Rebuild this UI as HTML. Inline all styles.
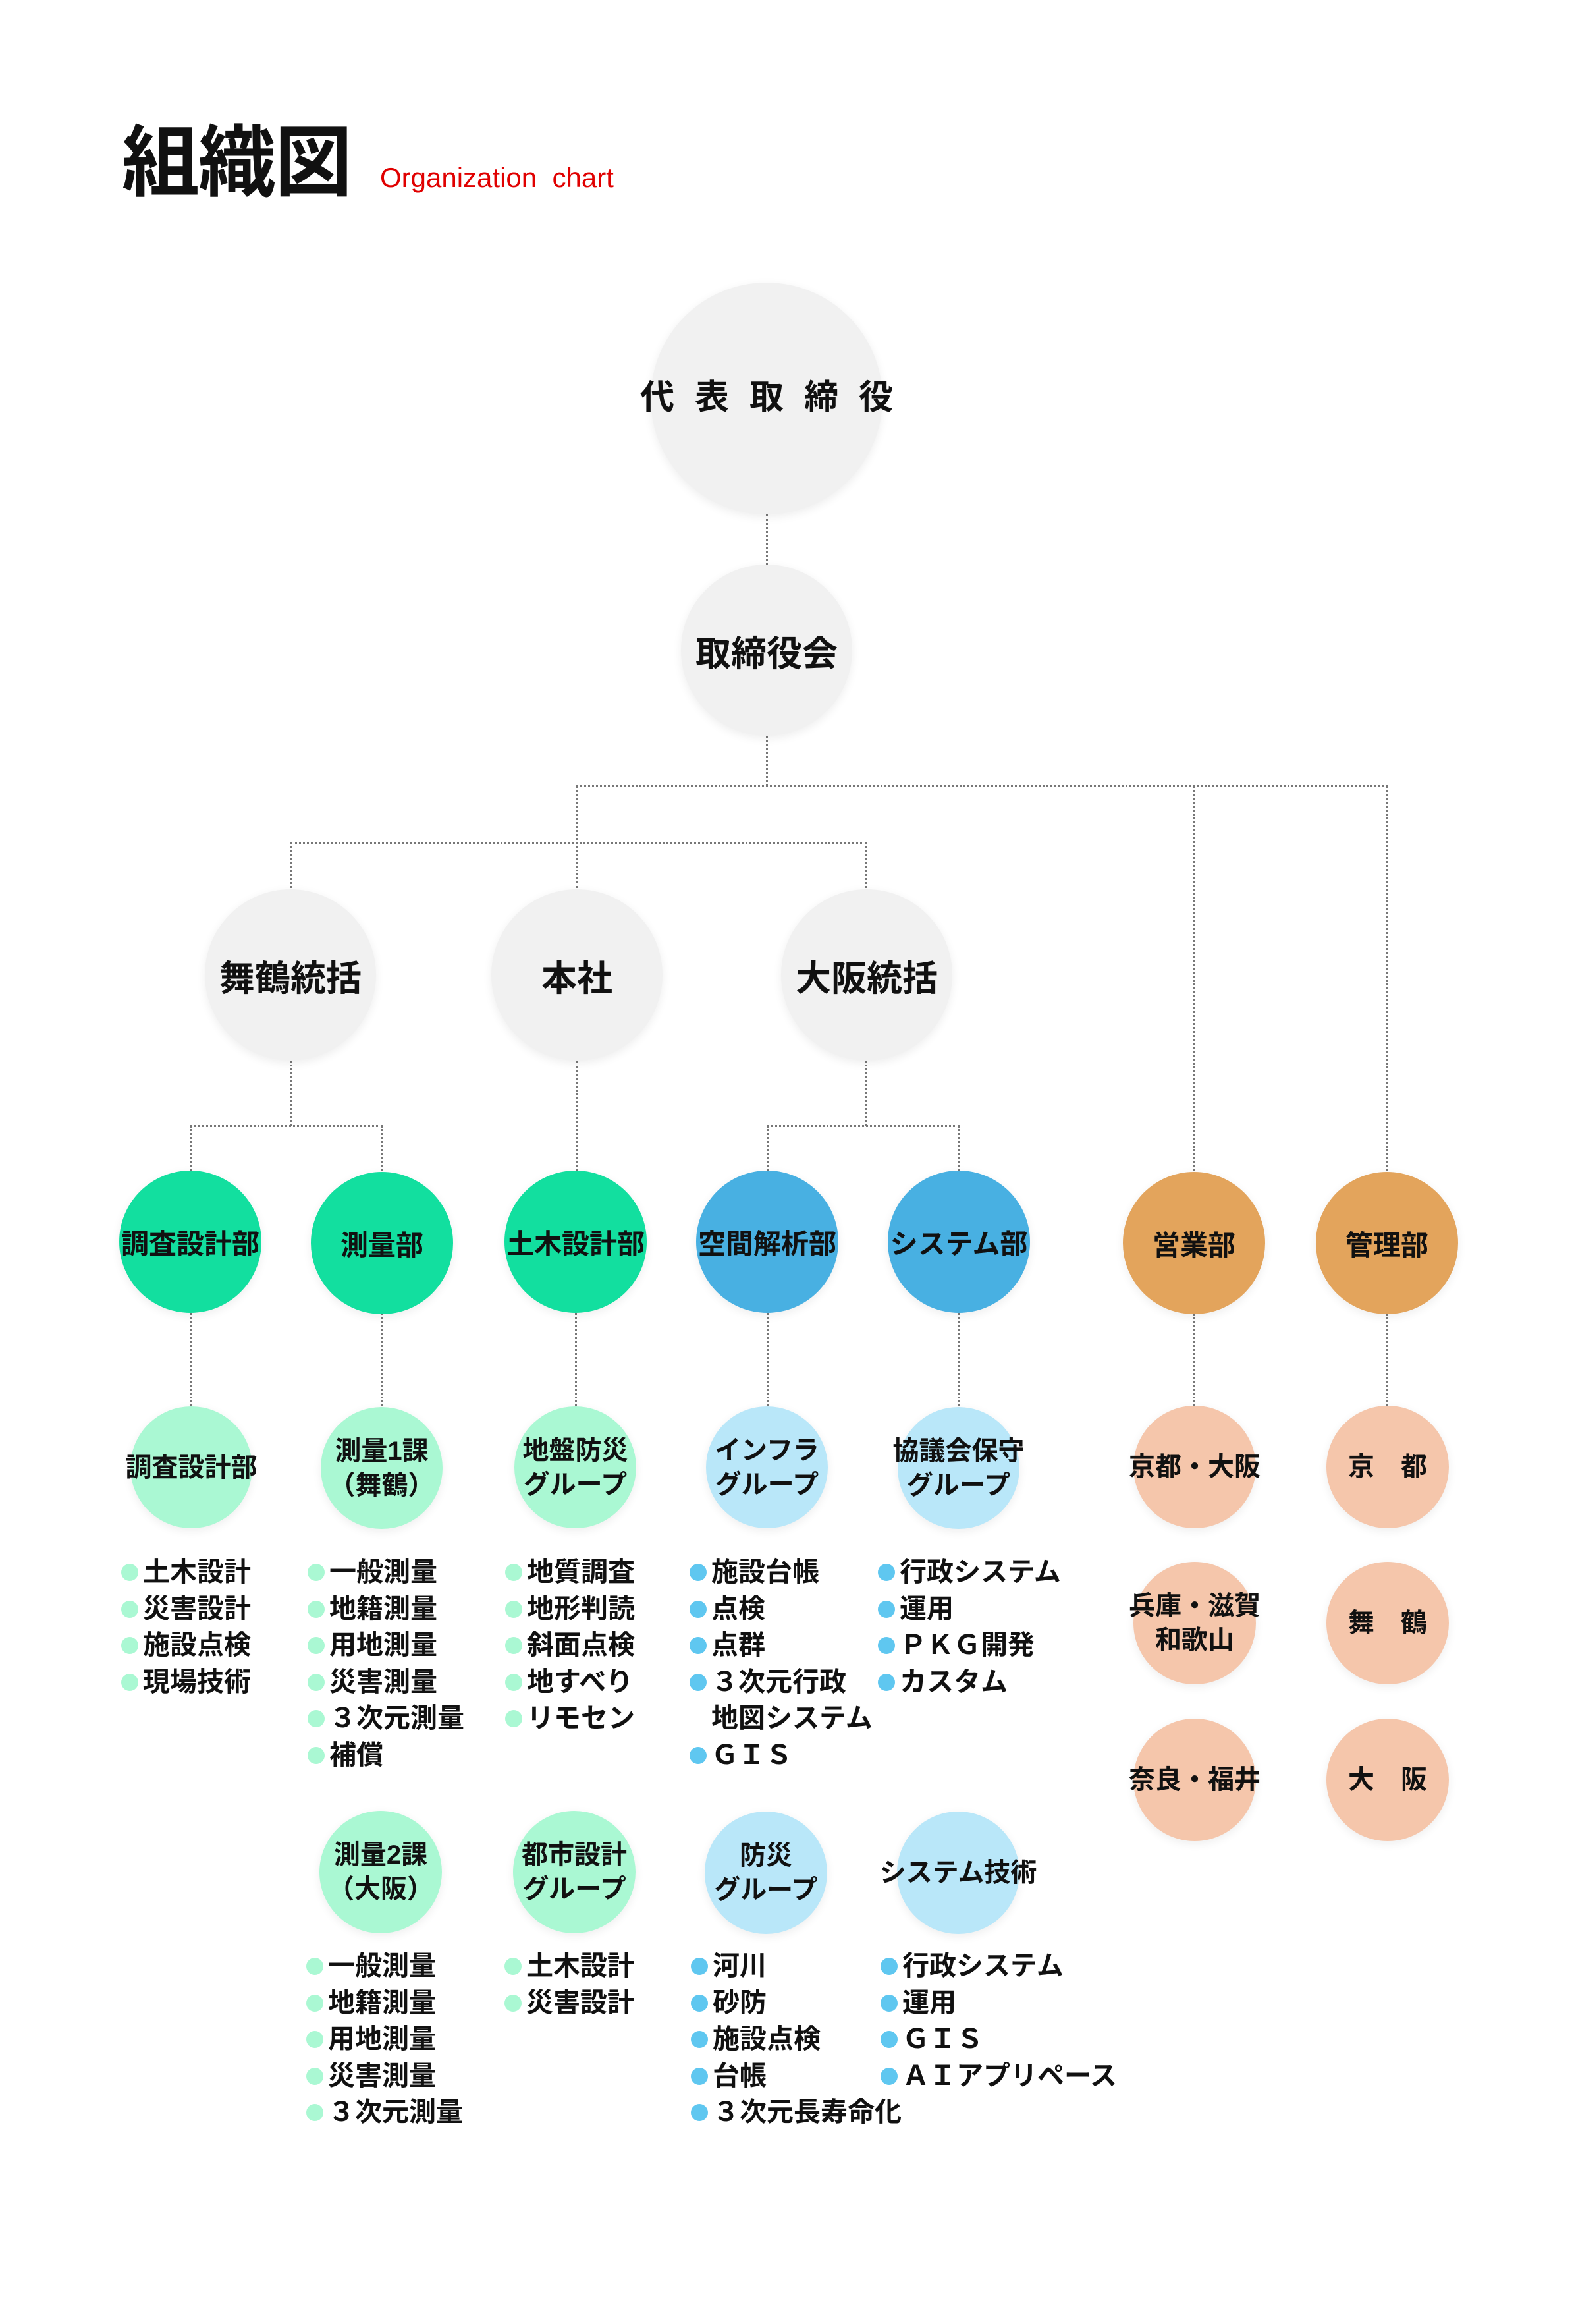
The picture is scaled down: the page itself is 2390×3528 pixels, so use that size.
<!DOCTYPE html>
<html><head><meta charset="utf-8">
<style>
html,body{margin:0;padding:0;background:#fff;}
body{width:2390px;height:3528px;position:relative;overflow:hidden;font-family:"Liberation Sans","Noto Sans CJK JP",sans-serif;color:#111;}
.c{position:absolute;border-radius:50%;display:flex;align-items:center;justify-content:center;text-align:center;white-space:nowrap;font-weight:700;box-shadow:0 4px 14px rgba(0,0,0,0.07);}
.c span{display:block;}
.v{position:absolute;border-left:3px dotted #777;width:0;}
.h{position:absolute;border-top:3px dotted #777;height:0;}
.g{background:#f1f1f1;}
.G{background:#12df9f;}
.B{background:#48b0e2;}
.O{background:#e3a45c;}
.lg{background:#aaf8d3;}
.lb{background:#b9e7f9;}
.pc{background:#f5c6ab;}
.L3{font-size:42px;}
.L4{font-size:40px;line-height:52px;}
.list{position:absolute;font-size:41px;font-weight:700;line-height:55.5px;white-space:nowrap;}
.list div{position:relative;padding-left:20px;}
.list div::before{content:"";position:absolute;left:-13px;top:15px;width:26px;height:26px;border-radius:50%;}
.lgd div::before{background:#aaf8d3;}
.lbd div::before{background:#5fc7f0;}
.list div.nb::before{display:none;}
</style></head><body>

<div style="position:absolute;left:185px;top:178px;font-size:118px;font-weight:700;line-height:140px;letter-spacing:-2px;">組織図</div>
<div style="position:absolute;left:577px;top:246px;font-size:42px;color:#e00000;line-height:48px;">Organization&nbsp;&nbsp;chart</div>

<!-- connectors -->
<div class="v" style="left:1163px;top:781px;height:76px;"></div>
<div class="v" style="left:1163px;top:1117px;height:76px;"></div>
<div class="h" style="left:875px;top:1192px;width:1233px;"></div>
<div class="v" style="left:875px;top:1193px;height:155px;"></div>
<div class="v" style="left:1812px;top:1193px;height:585px;"></div>
<div class="v" style="left:2105px;top:1193px;height:585px;"></div>
<div class="h" style="left:441px;top:1278px;width:875px;"></div>
<div class="v" style="left:440px;top:1279px;height:69px;"></div>
<div class="v" style="left:1314px;top:1279px;height:69px;"></div>

<div class="v" style="left:440px;top:1611px;height:98px;"></div>
<div class="h" style="left:288px;top:1708px;width:293px;"></div>
<div class="v" style="left:288px;top:1709px;height:68px;"></div>
<div class="v" style="left:579px;top:1709px;height:68px;"></div>
<div class="v" style="left:875px;top:1611px;height:166px;"></div>
<div class="v" style="left:1314px;top:1611px;height:98px;"></div>
<div class="h" style="left:1164px;top:1708px;width:293px;"></div>
<div class="v" style="left:1164px;top:1709px;height:68px;"></div>
<div class="v" style="left:1455px;top:1709px;height:68px;"></div>

<div class="v" style="left:288px;top:1993px;height:142px;"></div>
<div class="v" style="left:579px;top:1993px;height:142px;"></div>
<div class="v" style="left:873px;top:1993px;height:142px;"></div>
<div class="v" style="left:1164px;top:1993px;height:142px;"></div>
<div class="v" style="left:1455px;top:1993px;height:142px;"></div>
<div class="v" style="left:1812px;top:1995px;height:140px;"></div>
<div class="v" style="left:2105px;top:1995px;height:140px;"></div>

<!-- top -->
<div class="c g" style="left:988px;top:429px;width:352px;height:352px;font-size:52px;font-weight:700;"><span style="letter-spacing:31px;margin-left:31px;margin-top:-14px;">代表取締役</span></div>
<div class="c g" style="left:1034px;top:857px;width:260px;height:260px;font-size:54px;">取締役会</div>
<div class="c g" style="left:311px;top:1350px;width:260px;height:260px;font-size:54px;">舞鶴統括</div>
<div class="c g" style="left:746px;top:1350px;width:260px;height:260px;font-size:54px;">本社</div>
<div class="c g" style="left:1186px;top:1350px;width:260px;height:260px;font-size:54px;">大阪統括</div>

<!-- L3 -->
<div class="c G L3" style="left:181px;top:1777px;width:216px;height:216px;">調査設計部</div>
<div class="c G L3" style="left:472px;top:1779px;width:216px;height:216px;">測量部</div>
<div class="c G L3" style="left:766px;top:1777px;width:216px;height:216px;">土木設計部</div>
<div class="c B L3" style="left:1057px;top:1777px;width:216px;height:216px;">空間解析部</div>
<div class="c B L3" style="left:1348px;top:1777px;width:216px;height:216px;">システム部</div>
<div class="c O L3" style="left:1705px;top:1779px;width:216px;height:216px;">営業部</div>
<div class="c O L3" style="left:1998px;top:1779px;width:216px;height:216px;">管理部</div>

<!-- L4 -->
<div class="c lg L4" style="left:198px;top:2135px;width:185px;height:185px;">調査設計部</div>
<div class="c lg L4" style="left:487px;top:2136px;width:185px;height:185px;"><div><span>測量1課</span><span>（舞鶴）</span></div></div>
<div class="c lg L4" style="left:781px;top:2135px;width:185px;height:185px;"><div><span>地盤防災</span><span>グループ</span></div></div>
<div class="c lb L4" style="left:1072px;top:2135px;width:185px;height:185px;"><div><span>インフラ</span><span>グループ</span></div></div>
<div class="c lb L4" style="left:1363px;top:2136px;width:185px;height:185px;"><div><span>協議会保守</span><span>グループ</span></div></div>
<div class="c pc L4" style="left:1721px;top:2134px;width:186px;height:186px;">京都・大阪</div>
<div class="c pc L4" style="left:2014px;top:2134px;width:186px;height:186px;">京　都</div>
<div class="c pc L4" style="left:1721px;top:2371px;width:186px;height:186px;"><div><span>兵庫・滋賀</span><span>和歌山</span></div></div>
<div class="c pc L4" style="left:2014px;top:2371px;width:186px;height:186px;">舞　鶴</div>
<div class="c pc L4" style="left:1721px;top:2609px;width:186px;height:186px;">奈良・福井</div>
<div class="c pc L4" style="left:2014px;top:2609px;width:186px;height:186px;">大　阪</div>

<div class="c lg L4" style="left:485px;top:2749px;width:186px;height:186px;"><div><span>測量2課</span><span>（大阪）</span></div></div>
<div class="c lg L4" style="left:779px;top:2749px;width:186px;height:186px;"><div><span>都市設計</span><span>グループ</span></div></div>
<div class="c lb L4" style="left:1070px;top:2750px;width:186px;height:186px;"><div><span>防災</span><span>グループ</span></div></div>
<div class="c lb L4" style="left:1362px;top:2750px;width:186px;height:186px;">システム技術</div>

<!-- lists top -->
<div class="list lgd" style="left:197px;top:2359px;"><div>土木設計</div><div>災害設計</div><div>施設点検</div><div>現場技術</div></div>
<div class="list lgd" style="left:480px;top:2359px;"><div>一般測量</div><div>地籍測量</div><div>用地測量</div><div>災害測量</div><div>３次元測量</div><div>補償</div></div>
<div class="list lgd" style="left:780px;top:2359px;"><div>地質調査</div><div>地形判読</div><div>斜面点検</div><div>地すべり</div><div>リモセン</div></div>
<div class="list lbd" style="left:1060px;top:2359px;"><div>施設台帳</div><div>点検</div><div>点群</div><div>３次元行政</div><div class="nb">地図システム</div><div>ＧＩＳ</div></div>
<div class="list lbd" style="left:1346px;top:2359px;"><div>行政システム</div><div>運用</div><div>ＰＫＧ開発</div><div>カスタム</div></div>

<!-- lists bottom -->
<div class="list lgd" style="left:478px;top:2957px;"><div>一般測量</div><div>地籍測量</div><div>用地測量</div><div>災害測量</div><div>３次元測量</div></div>
<div class="list lgd" style="left:779px;top:2957px;"><div>土木設計</div><div>災害設計</div></div>
<div class="list lbd" style="left:1062px;top:2957px;"><div>河川</div><div>砂防</div><div>施設点検</div><div>台帳</div><div>３次元長寿命化</div></div>
<div class="list lbd" style="left:1350px;top:2957px;"><div>行政システム</div><div>運用</div><div>ＧＩＳ</div><div>ＡＩアプリペース</div></div>

</body></html>
